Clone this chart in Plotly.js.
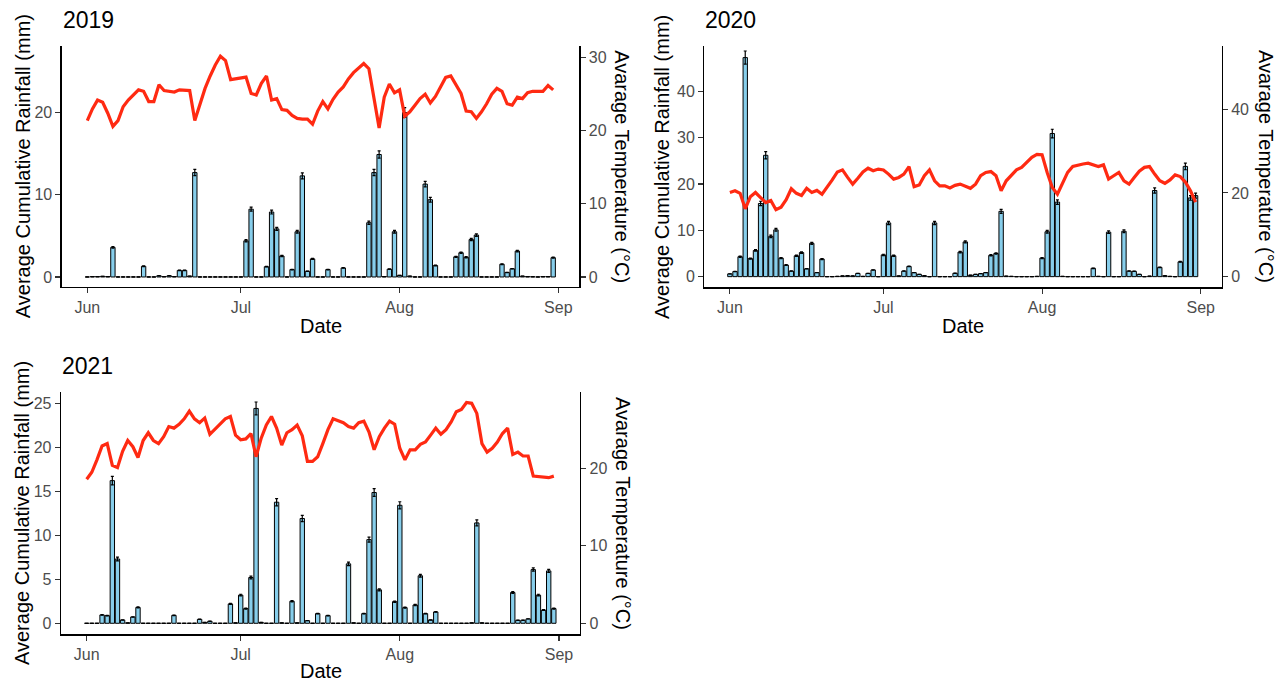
<!DOCTYPE html>
<html><head><meta charset="utf-8">
<script src="https://cdn.plot.ly/plotly-3.0.1.min.js"></script>
<style>html,body{margin:0;padding:0;background:#fff;}#chart{width:1282px;height:682px;}</style>
</head><body><div id="chart"></div>
<script>
const years = ['2019', '2020', '2021'];
const monthLabels = ['Jun', 'Jul', 'Aug', 'Sep'];
const leftTitle = 'Average Cumulative Rainfall (mm)';
const rightTitle = 'Avarage Temperature (°C)';
const xTitle = 'Date';

// daily rainfall (mm), Jun 1 .. Aug 31
const rain2019 = [
  0, 0.05, 0.05, 0.08, 0.05, 3.6, 0, 0, 0, 0,
  0, 1.3, 0, 0, 0.15, 0.05, 0.15, 0.05, 0.8, 0.8,
  0.1, 12.7, 0, 0, 0, 0, 0, 0, 0, 0,
  0, 4.4, 8.25, 0, 0, 1.25, 7.9, 5.85, 2.55, 0,
  0.9, 5.5, 12.3, 0.7, 2.2, 0, 0, 0.9, 0, 0,
  1.1, 0, 0, 0, 0, 6.6, 12.7, 14.9, 0.05, 0.95,
  5.5, 0.2, 20.0, 0.1, 0, 0, 11.3, 9.4, 1.4, 0,
  0, 0, 2.45, 2.95, 2.4, 4.55, 5.1, 0, 0, 0,
  0, 1.55, 0.55, 1.0, 3.15, 0.1, 0.05, 0.03, 0, 0.05,
  0.05, 2.35
];
const temp2019 = [
  21.4, 23.0, 24.2, 23.9, 22.4, 20.6, 21.4, 23.3, 24.2, 24.9,
  25.6, 25.4, 24.0, 24.0, 26.3, 25.5, 25.4, 25.3, 25.6, 25.6,
  25.5, 21.4, 23.5, 25.8, 27.5, 29.0, 30.2, 29.6, 27.0, 27.1,
  27.3, 27.35, 25.1, 24.9, 26.5, 27.5, 24.2, 24.4, 22.9, 22.8,
  22.1, 21.7, 21.6, 21.6, 20.9, 22.7, 24.0, 23.0, 24.3, 25.3,
  26.0, 27.1, 27.95, 28.6, 29.2, 28.5, 24.4, 20.4, 24.6, 26.4,
  25.2, 25.6, 22.0, 22.6, 23.5, 24.4, 25.0, 23.8, 24.7, 26.0,
  27.3, 27.5, 26.4, 25.1, 22.7, 22.6, 21.7, 22.6, 23.7, 25.0,
  25.8, 25.4, 23.7, 23.5, 24.6, 24.4, 25.2, 25.4, 25.4, 25.4,
  26.2, 25.6
];
const rain2020 = [
  0.6, 1.1, 4.3, 47.3, 3.9, 5.65, 15.8, 26.2, 8.7, 10.1,
  4.0, 2.5, 1.2, 4.5, 5.2, 1.7, 7.2, 0.87, 3.8, 0,
  0, 0.05, 0.15, 0.2, 0.15, 0.7, 0.05, 0.7, 1.45, 0,
  4.7, 11.6, 4.5, 0.15, 1.2, 2.2, 0.87, 0.5, 0.2, 0,
  11.6, 0, 0, 0, 0.72, 5.3, 7.5, 0.3, 0.5, 0.65,
  0.87, 4.6, 5.0, 14.1, 0.1, 0.05, 0, 0, 0, 0,
  0.05, 4.0, 9.7, 30.9, 16.1, 0.05, 0, 0, 0, 0,
  0, 1.8, 0.05, 0, 9.6, 0, 0, 9.8, 1.2, 1.15,
  0.5, 0, 0.1, 18.6, 2.0, 0.2, 0.05, 0, 3.2, 23.8,
  17.0, 17.5
];
const temp2020 = [
  20.1, 20.5, 19.9, 16.2, 19.1, 20.1, 18.9, 17.7, 18.2, 16.0,
  16.6, 18.4, 21.0, 19.9, 19.4, 21.1, 20.1, 20.6, 19.7, 21.3,
  23.1, 25.0, 25.5, 23.7, 22.1, 23.5, 25.0, 25.9, 25.3, 25.7,
  25.5, 24.5, 23.3, 23.7, 24.5, 26.3, 21.5, 21.9, 24.1, 25.5,
  22.9, 21.7, 21.7, 21.2, 21.8, 22.1, 21.7, 21.1, 22.1, 24.1,
  24.9, 25.1, 24.1, 20.5, 22.9, 24.1, 25.5, 26.1, 27.3, 28.5,
  29.2, 29.1, 24.9, 21.3, 19.7, 22.4, 24.9, 26.3, 26.7, 26.9,
  27.1, 26.7, 26.3, 26.7, 23.3, 24.1, 24.9, 22.9, 22.1, 23.7,
  25.2, 26.1, 26.3, 24.5, 22.9, 22.3, 23.1, 24.3, 23.9, 22.6,
  20.5, 17.8
];
const rain2021 = [
  0, 0, 0, 0.95, 0.87, 16.2, 7.3, 0.38, 0.05, 0.72,
  1.8, 0, 0, 0, 0, 0, 0, 0.9, 0, 0,
  0, 0, 0.45, 0.1, 0.23, 0, 0, 0, 2.2, 0.05,
  3.2, 1.67, 5.2, 24.4, 0.1, 0, 0, 13.75, 0.05, 0,
  2.5, 0.05, 11.9, 0.3, 0, 1.1, 0, 0.87, 0, 0,
  0, 6.75, 0.05, 0, 1.1, 9.5, 14.85, 3.8, 0, 0,
  2.46, 13.4, 1.78, 0, 2.08, 5.4, 1.1, 0.38, 1.29, 0,
  0, 0, 0, 0, 0, 0.05, 11.4, 0.05, 0, 0,
  0, 0, 0, 3.5, 0.34, 0.35, 0.5, 6.1, 3.2, 1.5,
  5.95, 1.67
];
const temp2021 = [
  18.6, 19.5, 21.1, 22.9, 23.2, 20.4, 20.1, 22.2, 23.6, 22.8,
  21.4, 23.6, 24.6, 23.6, 23.2, 24.1, 25.4, 25.2, 25.7, 26.4,
  27.4, 26.4, 25.9, 26.5, 24.4, 25.1, 25.8, 26.4, 26.7, 24.3,
  23.7, 23.8, 24.5, 21.5, 23.9, 25.6, 26.7, 25.2, 23.0, 24.6,
  25.0, 25.6, 24.2, 20.9, 20.9, 21.5, 23.2, 25.0, 26.4, 26.1,
  25.9, 25.4, 25.2, 25.9, 26.1, 24.7, 22.4, 24.1, 25.2, 26.1,
  25.7, 22.6, 21.1, 22.4, 22.4, 23.1, 23.4, 24.3, 25.2, 24.4,
  25.0, 26.0, 27.3, 27.6, 28.5, 28.4, 27.1, 23.2, 22.1, 22.6,
  23.4, 24.5, 25.2, 21.8, 22.1, 21.6, 21.6, 19.0, 18.9, 18.9,
  18.8, 19.0
];

const rainSeries = [rain2019, rain2020, rain2021];
const tempSeries = [temp2019, temp2020, temp2021];

const W = 1282, H = 682;
const DAY = 86400000;
const FONT = 'Liberation Sans, Arial, Helvetica, sans-serif';

function dayList(year, n) {
  const out = [];
  for (let i = 0; i < n; i++) {
    out.push(new Date(Date.UTC(+year, 5, 1 + i)).toISOString().slice(0, 10));
  }
  return out;
}
function iso(ms) { return new Date(ms).toISOString().replace('T', ' ').slice(0, 19); }

// panel geometry in pixels: [left, right, top, bottom]; title offsets
const panels = [
  {px: [61.7, 579.3, 46, 287], left: [-1.22, 28.1], right: [-1.37, 31.6], dl: 10, dr: 10, lt: 39, rt: 43, xt: 39},
  {px: [704.3, 1221.7, 46, 287.3], left: [-2.3, 49.8], right: [-2.55, 55.1], dl: 10, dr: 20, lt: 43, rt: 45, xt: 39},
  {px: [61, 580, 391.7, 634.3], left: [-1.25, 26.3], right: [-1.42, 29.9], dl: 5, dr: 10, lt: 39, rt: 43, xt: 37}
];

const traces = [];
const layout = {
  width: W, height: H,
  margin: {l: 0, r: 0, t: 0, b: 0},
  paper_bgcolor: '#ffffff', plot_bgcolor: 'rgba(0,0,0,0)',
  showlegend: false,
  font: {family: FONT, color: '#000'},
  annotations: []
};

function axisBase() {
  return {
    showgrid: false, zeroline: false,
    showline: true, linecolor: '#000', linewidth: 1.3,
    ticks: 'outside', ticklen: 5, tickwidth: 1.1, tickcolor: '#333',
    tickfont: {family: FONT, size: 16, color: '#4d4d4d'},
    fixedrange: true
  };
}

years.forEach((yr, i) => {
  const p = panels[i];
  const n = rainSeries[i].length;
  const dates = dayList(yr, n);
  const xa = i === 0 ? 'x' : 'x' + (i + 1);
  const yl = 'y' + (i === 0 ? '' : (2 * i + 1));
  const yr2 = 'y' + (2 * i + 2);
  const xKey = 'xaxis' + (i === 0 ? '' : (i + 1));
  const ylKey = 'yaxis' + (i === 0 ? '' : (2 * i + 1));
  const yrKey = 'yaxis' + (2 * i + 2);

  traces.push({
    type: 'bar', x: dates, y: rainSeries[i], xaxis: xa, yaxis: yl,
    width: 0.85 * DAY,
    marker: {color: '#87CEEB', line: {color: '#000', width: 1}},
    error_y: {type: 'percent', value: 3, color: '#000', thickness: 1.2, width: 1.5},
    hoverinfo: 'x+y'
  });
  traces.push({
    type: 'scatter', mode: 'lines', x: dates, y: tempSeries[i], xaxis: xa, yaxis: yr2,
    line: {color: '#ff2a12', width: 3.2}, hoverinfo: 'x+y'
  });

  const start = Date.UTC(+yr, 5, 1);
  const tickvals = [5, 6, 7, 8].map(m => new Date(Date.UTC(+yr, m, 1)).toISOString().slice(0, 10));

  layout[xKey] = Object.assign(axisBase(), {
    type: 'date', anchor: yl,
    domain: [p.px[0] / W, p.px[1] / W],
    range: [iso(start - 5 * DAY), iso(start + 96.1 * DAY)],
    tickmode: 'array', tickvals: tickvals, ticktext: monthLabels
  });
  layout[ylKey] = Object.assign(axisBase(), {
    anchor: xa, domain: [1 - p.px[3] / H, 1 - p.px[2] / H],
    range: p.left, dtick: p.dl, tick0: 0
  });
  layout[yrKey] = Object.assign(axisBase(), {
    anchor: xa, overlaying: yl, side: 'right',
    range: p.right, dtick: p.dr, tick0: 0
  });

  const cx = (p.px[0] + p.px[1]) / 2;
  const cy = (p.px[2] + p.px[3]) / 2;
  const ann = (text, x, y, opts) => Object.assign({
    text: text, xref: 'paper', yref: 'paper', x: x / W, y: 1 - y / H,
    showarrow: false, xanchor: 'center', yanchor: 'middle',
    font: {family: FONT, size: 20, color: '#000'}
  }, opts || {});

  layout.annotations.push(ann(yr, p.px[0] - 1, p.px[2] - 26, {xanchor: 'left', font: {family: FONT, size: 23, color: '#000'}}));
  layout.annotations.push(ann(leftTitle, p.px[0] - p.lt, cy, {textangle: -90}));
  layout.annotations.push(ann(rightTitle, p.px[1] + p.rt, cy, {textangle: 90}));
  layout.annotations.push(ann(xTitle, cx, p.px[3] + p.xt));
});

Plotly.newPlot('chart', traces, layout, {displayModeBar: false, staticPlot: true});
</script>
</body></html>
